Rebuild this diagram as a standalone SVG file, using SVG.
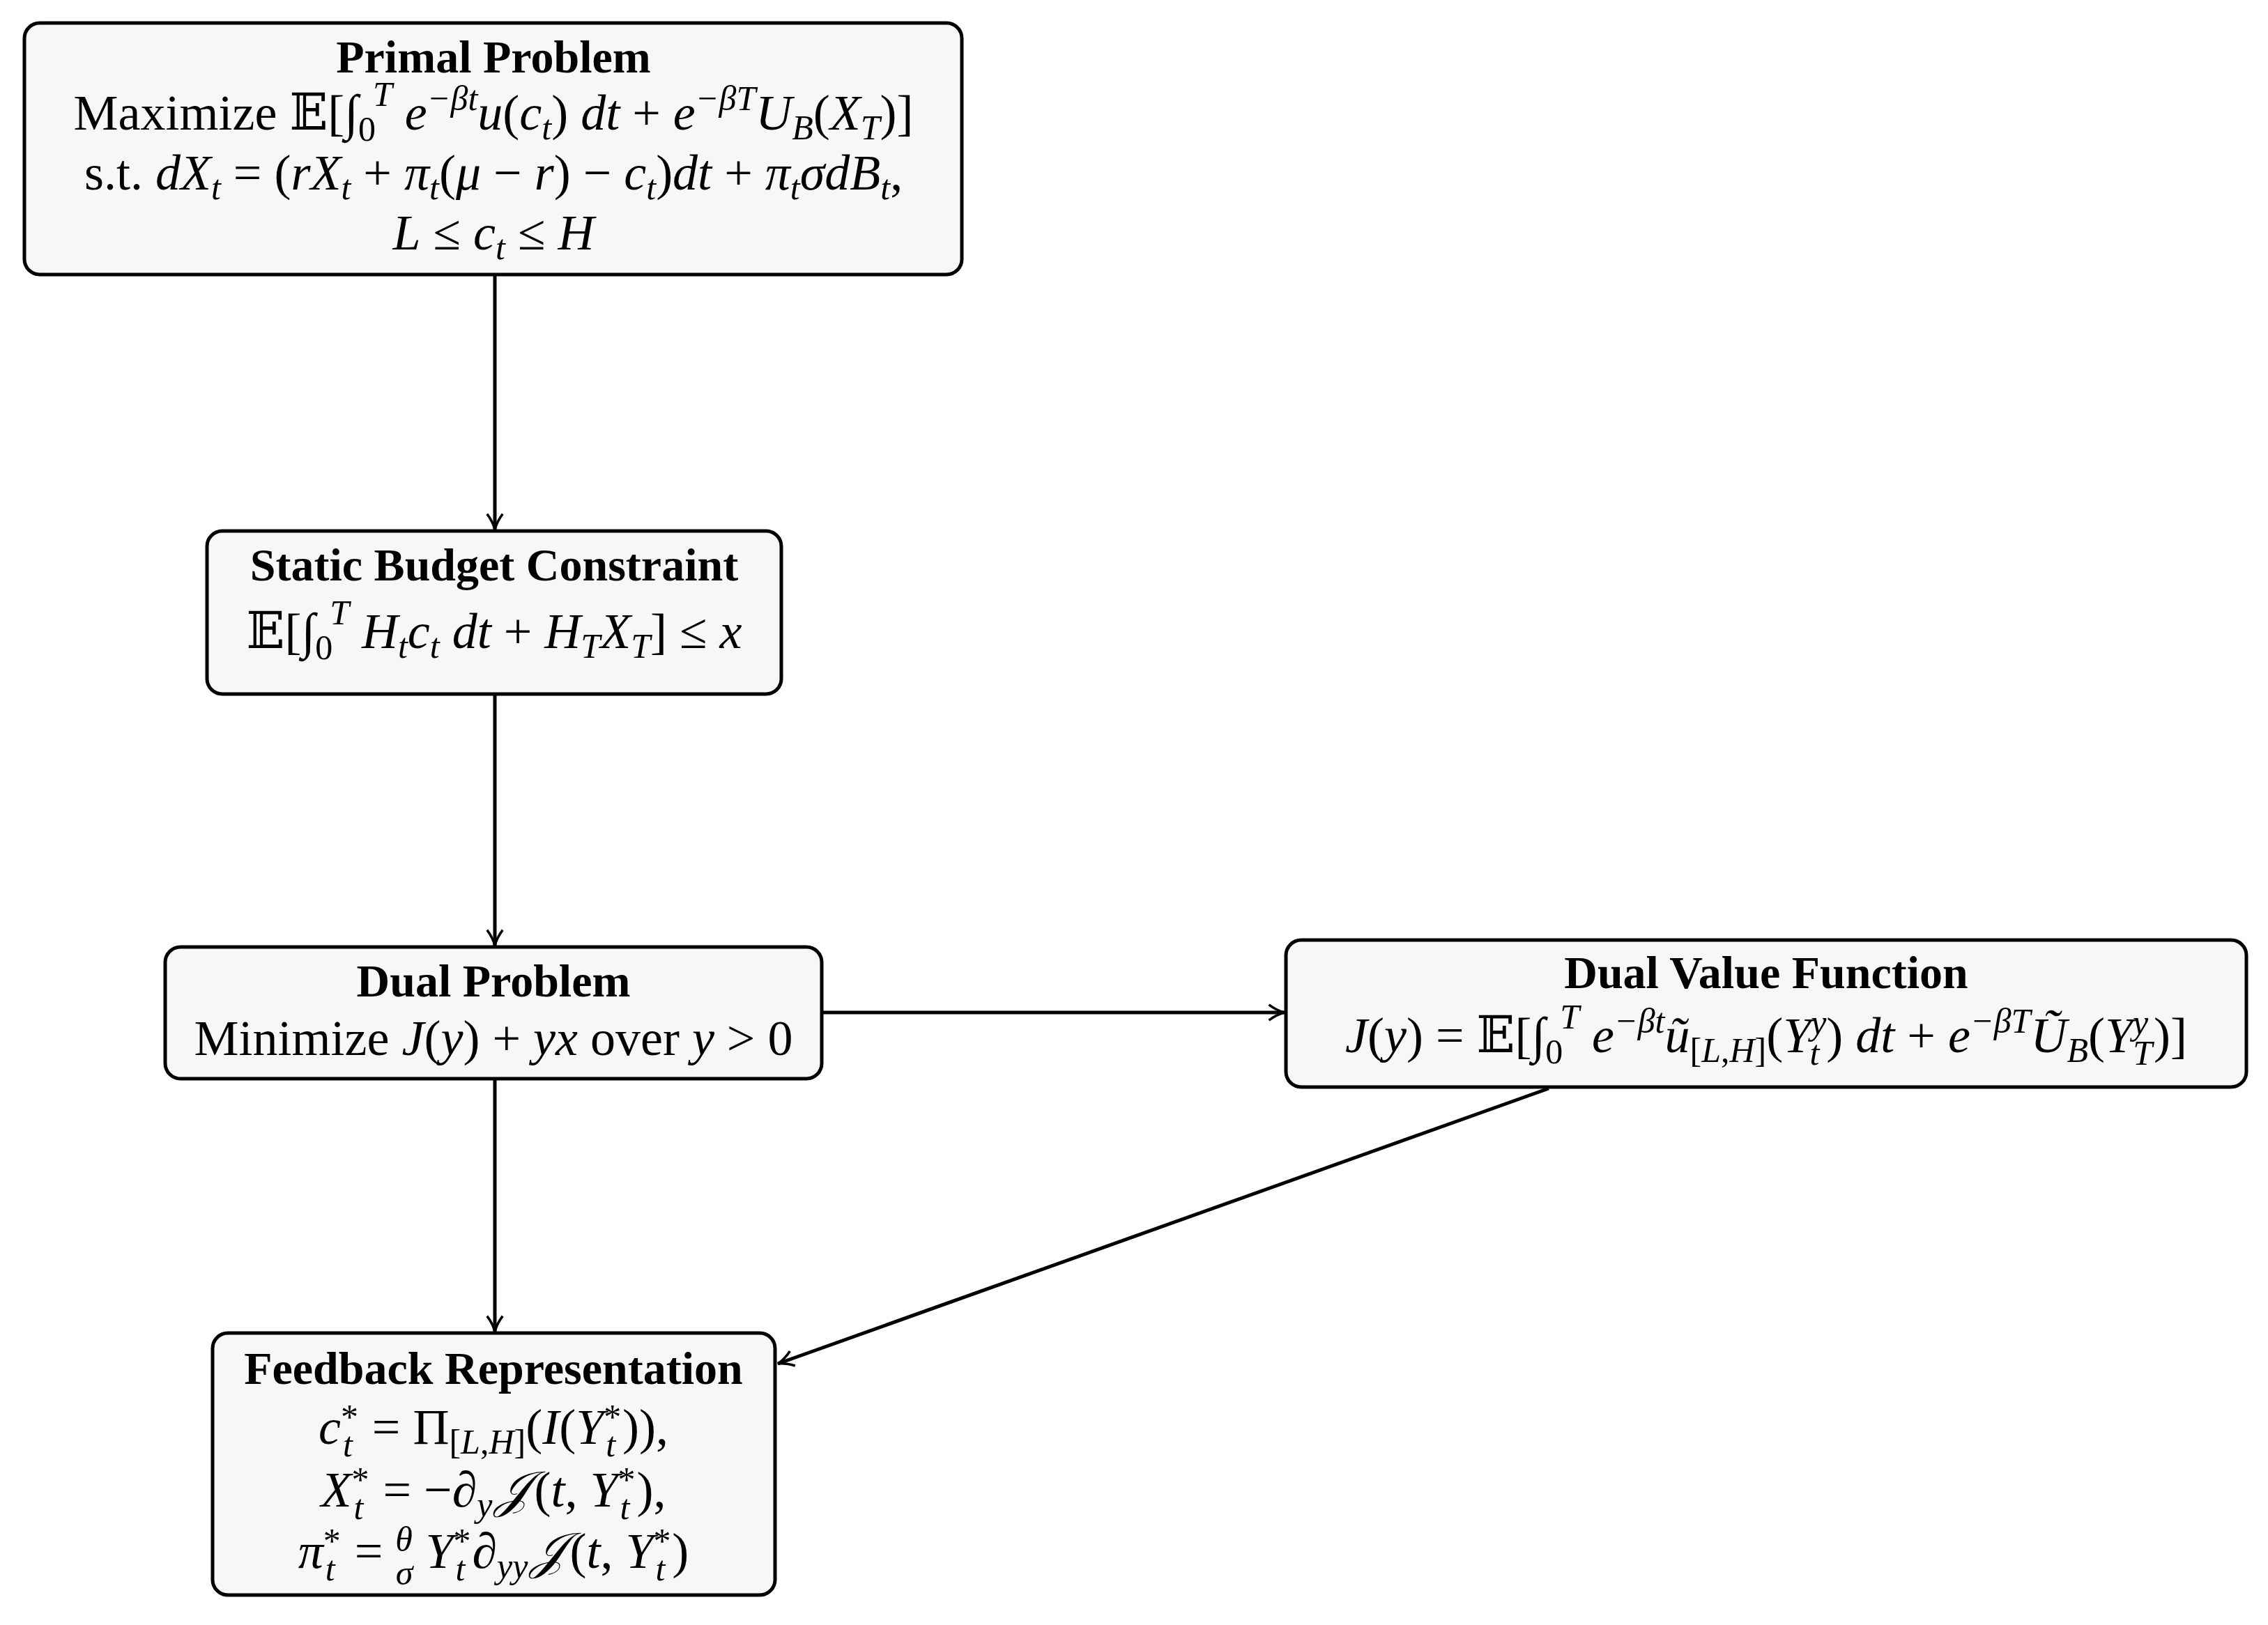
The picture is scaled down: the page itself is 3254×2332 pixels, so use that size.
<svg xmlns="http://www.w3.org/2000/svg" width="3254" height="2332" viewBox="0 0 3254 2332">
<style>
.box{fill:#f7f7f7;stroke:#000;stroke-width:5}
text{font-family:"Liberation Serif","DejaVu Serif",serif;font-size:72px;fill:#000;text-anchor:middle}
.b{font-weight:bold;font-size:66px}
.i{font-style:italic}
.s{font-size:50px}
.c{stroke:#000;stroke-width:5;fill:none}
</style>
<defs>
<marker id="m" viewBox="0 0 20 20" refX="18" refY="10" markerWidth="28" markerHeight="28" orient="auto" markerUnits="userSpaceOnUse"><path d="M2,2 Q10,8 18,10 Q10,12 2,18" fill="none" stroke="#000" stroke-width="2.5"/></marker></defs>
<g id="connectors">
<line class="c" x1="710" y1="394" x2="710" y2="760" marker-end="url(#m)"/>
<line class="c" x1="710" y1="996" x2="710" y2="1357" marker-end="url(#m)"/>
<line class="c" x1="710" y1="1548" x2="710" y2="1911" marker-end="url(#m)"/>
<line class="c" x1="1179" y1="1453" x2="1843" y2="1453" marker-end="url(#m)"/>
<line class="c" x1="2222" y1="1562" x2="1116" y2="1957" marker-end="url(#m)"/>
</g>
<g id="primal">
<rect class="box" x="35" y="33" width="1345" height="361" rx="22"/>
<text x="708" y="104" class="b">Primal Problem</text>
<text x="708" y="186">Maximize 𝔼[∫<tspan class="s" dy="16">0</tspan><tspan class="s i" dx="-4" dy="-50">T</tspan><tspan class="i" dy="34"> e</tspan><tspan class="s i" dy="-28">−βt</tspan><tspan class="i" dy="28">u</tspan>(<tspan class="i">c</tspan><tspan class="s i" dy="14">t</tspan><tspan dy="-14">) </tspan><tspan class="i">dt</tspan> + <tspan class="i">e</tspan><tspan class="s i" dy="-28">−βT</tspan><tspan class="i" dy="28">U</tspan><tspan class="s i" dy="14">B</tspan><tspan dy="-14">(</tspan><tspan class="i">X</tspan><tspan class="s i" dy="14">T</tspan><tspan dy="-14">)]</tspan></text>
<text x="708" y="272">s.t. <tspan class="i">dX</tspan><tspan class="s i" dy="14">t</tspan><tspan dy="-14"> = (</tspan><tspan class="i">rX</tspan><tspan class="s i" dy="14">t</tspan><tspan dy="-14"> + </tspan><tspan class="i">π</tspan><tspan class="s i" dy="14">t</tspan><tspan dy="-14">(</tspan><tspan class="i">μ</tspan> − <tspan class="i">r</tspan>) − <tspan class="i">c</tspan><tspan class="s i" dy="14">t</tspan><tspan dy="-14">)</tspan><tspan class="i">dt</tspan> + <tspan class="i">π</tspan><tspan class="s i" dy="14">t</tspan><tspan class="i" dy="-14">σdB</tspan><tspan class="s i" dy="14">t</tspan><tspan dy="-14">,</tspan></text>
<text x="708" y="358"><tspan class="i">L</tspan> ≤ <tspan class="i">c</tspan><tspan class="s i" dy="14">t</tspan><tspan dy="-14"> ≤ </tspan><tspan class="i">H</tspan></text>
</g>
<g id="static">
<rect class="box" x="297" y="762" width="824" height="234" rx="22"/>
<text x="709" y="833" class="b">Static Budget Constraint</text>
<text x="709" y="930">𝔼[∫<tspan class="s" dy="16">0</tspan><tspan class="s i" dx="-4" dy="-50">T</tspan><tspan class="i" dy="34"> H</tspan><tspan class="s i" dy="14">t</tspan><tspan class="i" dy="-14">c</tspan><tspan class="s i" dy="14">t</tspan><tspan class="i" dy="-14"> dt</tspan> + <tspan class="i">H</tspan><tspan class="s i" dy="14">T</tspan><tspan class="i" dy="-14">X</tspan><tspan class="s i" dy="14">T</tspan><tspan dy="-14">] ≤ </tspan><tspan class="i">x</tspan></text>
</g>
<g id="dual">
<rect class="box" x="237" y="1359" width="942" height="189" rx="22"/>
<text x="708" y="1430" class="b">Dual Problem</text>
<text x="708" y="1514">Minimize <tspan class="i">J</tspan>(<tspan class="i">y</tspan>) + <tspan class="i">yx</tspan> over <tspan class="i">y</tspan> &gt; 0</text>
</g>
<g id="dualvalue">
<rect class="box" x="1845" y="1349" width="1378" height="211" rx="22"/>
<text x="2534" y="1418" class="b">Dual Value Function</text>
<text x="2534" y="1510"><tspan class="i">J</tspan>(<tspan class="i">y</tspan>) = 𝔼[∫<tspan class="s" dy="16">0</tspan><tspan class="s i" dx="-4" dy="-50">T</tspan><tspan class="i" dy="34"> e</tspan><tspan class="s i" dy="-28">−βt</tspan><tspan class="i" dy="28">ũ</tspan><tspan class="s" dy="14">[<tspan class="i">L</tspan>,<tspan class="i">H</tspan>]</tspan><tspan dy="-14">(</tspan><tspan class="i">Y</tspan><tspan class="s i" dy="-26">y</tspan><tspan class="s i" dx="-24" dy="44">t</tspan><tspan dx="10" dy="-18">) </tspan><tspan class="i">dt</tspan> + <tspan class="i">e</tspan><tspan class="s i" dy="-28">−βT</tspan><tspan class="i" dy="28">Ũ</tspan><tspan class="s i" dy="14">B</tspan><tspan dy="-14">(</tspan><tspan class="i">Y</tspan><tspan class="s i" dy="-26">y</tspan><tspan class="s i" dx="-22" dy="44">T</tspan><tspan dx="2" dy="-18">)]</tspan></text>
</g>
<g id="feedback">
<rect class="box" x="305" y="1913" width="807" height="376" rx="22"/>
<text x="708" y="1986" class="b">Feedback Representation</text>
<text x="708" y="2072"><tspan class="i">c</tspan><tspan class="s" dy="-22">*</tspan><tspan class="s i" dx="-22" dy="40">t</tspan><tspan dx="10" dy="-18"> = Π</tspan><tspan class="s" dy="14">[<tspan class="i">L</tspan>,<tspan class="i">H</tspan>]</tspan><tspan dy="-14">(</tspan><tspan class="i">I</tspan>(<tspan class="i">Y</tspan><tspan class="s" dy="-22">*</tspan><tspan class="s i" dx="-22" dy="40">t</tspan><tspan dx="10" dy="-18">)),</tspan></text>
<text x="708" y="2162"><tspan class="i">X</tspan><tspan class="s" dy="-22">*</tspan><tspan class="s i" dx="-22" dy="40">t</tspan><tspan dx="10" dy="-18"> = −∂</tspan><tspan class="s i" dy="14">y</tspan><tspan class="i" dx="4" dy="-14">𝒥</tspan><tspan dx="6">(</tspan><tspan class="i">t</tspan>, <tspan class="i">Y</tspan><tspan class="s" dy="-22">*</tspan><tspan class="s i" dx="-22" dy="40">t</tspan><tspan dx="10" dy="-18">),</tspan></text>
<text x="708" y="2250"><tspan class="i">π</tspan><tspan class="s" dy="-22">*</tspan><tspan class="s i" dx="-22" dy="40">t</tspan><tspan dx="10" dy="-18"> = </tspan><tspan class="s i" dy="-24">θ</tspan><tspan class="s i" dx="-24" dy="48">σ</tspan><tspan class="i" dy="-24"> Y</tspan><tspan class="s" dy="-22">*</tspan><tspan class="s i" dx="-22" dy="40">t</tspan><tspan dx="10" dy="-18">∂</tspan><tspan class="s i" dy="14">yy</tspan><tspan class="i" dx="4" dy="-14">𝒥</tspan><tspan dx="6">(</tspan><tspan class="i">t</tspan>, <tspan class="i">Y</tspan><tspan class="s" dy="-22">*</tspan><tspan class="s i" dx="-22" dy="40">t</tspan><tspan dx="10" dy="-18">)</tspan></text>
</g>
</svg>
